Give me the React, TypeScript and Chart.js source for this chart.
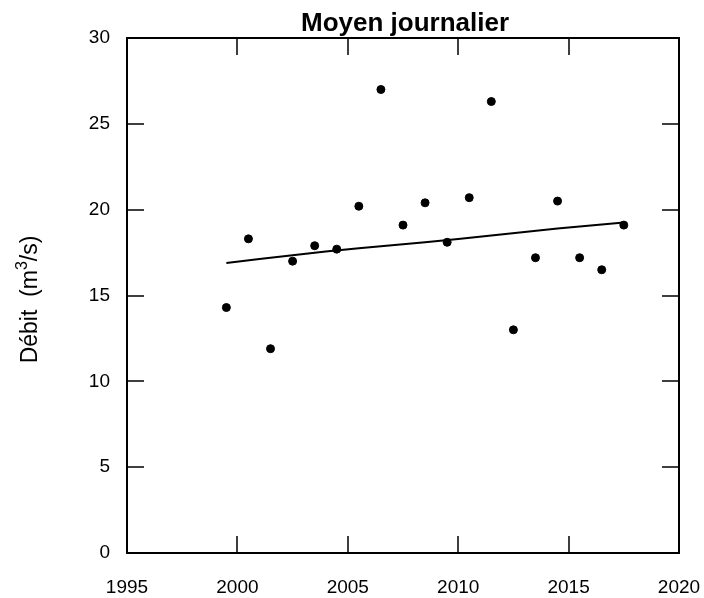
import React, { useEffect, useRef } from "react";
import { Chart, registerables } from "chart.js";

Chart.register(...registerables);

const years = [1999.5, 2000.5, 2001.5, 2002.5, 2003.5, 2004.5, 2005.5, 2006.5, 2007.5, 2008.5, 2009.5, 2010.5, 2011.5, 2012.5, 2013.5, 2014.5, 2015.5, 2016.5, 2017.5];
const debit = [14.3, 18.3, 11.9, 17.0, 17.9, 17.7, 20.2, 27.0, 19.1, 20.4, 18.1, 20.7, 26.3, 13.0, 17.2, 20.5, 17.2, 16.5, 19.1];
const trendYears = [1999.5, 2002.5, 2005.5, 2008.5, 2011.5, 2014.5, 2017.5];
const trendValues = [16.9, 17.35, 17.75, 18.1, 18.5, 18.9, 19.25];
const xTicks = [1995, 2000, 2005, 2010, 2015, 2020];
const yTicks = [0, 5, 10, 15, 20, 25, 30];
const title = "Moyen journalier";
const yTitleMain = "Débit  (m";
const yTitleSup = "3";
const yTitleEnd = "/s)";

const FONT = "'Liberation Sans', Arial, sans-serif";

const framePlugin = {
  id: "frame",
  afterDraw(chart: any) {
    const { ctx, chartArea } = chart;
    const { left, right, top, bottom } = chartArea;
    const xs = chart.scales.x;
    const ys = chart.scales.y;
    const tl = 17;
    ctx.save();
    ctx.strokeStyle = "#000";
    ctx.lineWidth = 2;
    ctx.beginPath();
    ctx.rect(left, top, right - left, bottom - top);
    ctx.stroke();
    ctx.lineWidth = 1.5;
    ctx.beginPath();
    xTicks.forEach((t) => {
      if (t === xTicks[0] || t === xTicks[xTicks.length - 1]) return;
      const px = Math.round(xs.getPixelForValue(t));
      ctx.moveTo(px, bottom);
      ctx.lineTo(px, bottom - tl);
      ctx.moveTo(px, top);
      ctx.lineTo(px, top + tl);
    });
    yTicks.forEach((t) => {
      if (t === yTicks[0] || t === yTicks[yTicks.length - 1]) return;
      const py = Math.round(ys.getPixelForValue(t));
      ctx.moveTo(left, py);
      ctx.lineTo(left + tl, py);
      ctx.moveTo(right, py);
      ctx.lineTo(right - tl, py);
    });
    ctx.stroke();

    // main title
    ctx.fillStyle = "#000";
    ctx.font = `bold 26px ${FONT}`;
    ctx.textAlign = "center";
    ctx.textBaseline = "alphabetic";
    ctx.fillText(title, (left + right) / 2 + 2, 31);

    // y axis title with superscript
    const mainFont = `23px ${FONT}`;
    const supFont = `16px ${FONT}`;
    ctx.font = mainFont;
    const w1 = ctx.measureText(yTitleMain).width;
    const w3 = ctx.measureText(yTitleEnd).width;
    ctx.font = supFont;
    const w2 = ctx.measureText(yTitleSup).width;
    const total = w1 + w2 + w3;
    const cy = (top + bottom) / 2 + 4;
    ctx.translate(37, cy);
    ctx.rotate(-Math.PI / 2);
    ctx.textAlign = "left";
    let x0 = -total / 2;
    ctx.font = mainFont;
    ctx.fillText(yTitleMain, x0, 0);
    x0 += w1;
    ctx.font = supFont;
    ctx.fillText(yTitleSup, x0, -10);
    x0 += w2;
    ctx.font = mainFont;
    ctx.fillText(yTitleEnd, x0, 0);
    ctx.restore();
  },
};

export default function App() {
  const ref = useRef<HTMLCanvasElement | null>(null);
  useEffect(() => {
    document.body.style.margin = "0";
    const chart = new Chart(ref.current as HTMLCanvasElement, {
      type: "scatter",
      data: {
        datasets: [
          {
            data: years.map((x, i) => ({ x, y: debit[i] })),
            backgroundColor: "#000",
            borderColor: "#000",
            pointRadius: 4,
            showLine: false,
          },
          {
            data: trendYears.map((x, i) => ({ x, y: trendValues[i] })),
            borderColor: "#000",
            borderWidth: 2,
            pointRadius: 0,
            showLine: true,
            tension: 0.4,
          },
        ],
      },
      options: {
        animation: false,
        responsive: false,
        layout: { padding: { left: 0, right: 25, top: 38, bottom: 0 } },
        plugins: { legend: { display: false }, tooltip: { enabled: false }, title: { display: false } },
        scales: {
          x: {
            type: "linear",
            min: 1995,
            max: 2020,
            grid: { display: false, drawTicks: false },
            border: { display: false },
            ticks: {
              stepSize: 5,
              color: "#000",
              font: { family: FONT, size: 19 },
              padding: 23,
              maxRotation: 0,
              callback: (v: any) => String(v),
            },
            afterFit: (s: any) => {
              s.height = 45;
              s.paddingLeft = 0;
              s.paddingRight = 0;
            },
          },
          y: {
            type: "linear",
            min: 0,
            max: 30,
            grid: { display: false, drawTicks: false },
            border: { display: false },
            ticks: {
              stepSize: 5,
              color: "#000",
              font: { family: FONT, size: 19 },
              padding: 17,
            },
            title: { display: false },
            afterFit: (s: any) => {
              s.width = 127;
              s.paddingTop = 0;
              s.paddingBottom = 0;
            },
          },
        },
      },
      plugins: [framePlugin],
    });
    return () => chart.destroy();
  }, []);
  return <canvas ref={ref} width={704} height={598} style={{ display: "block" }} />;
}
